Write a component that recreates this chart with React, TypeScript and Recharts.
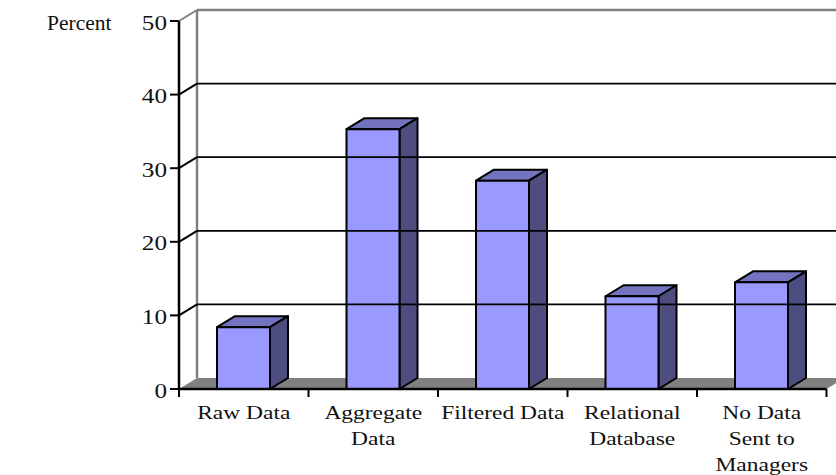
import React from 'react';
import { BarChart, Bar, XAxis, YAxis, ReferenceLine, usePlotArea } from 'recharts';

const categories = ['Raw Data', 'Aggregate\nData', 'Filtered Data', 'Relational\nDatabase', 'No Data\nSent to\nManagers'];
const percents = [8.4, 35.3, 28.3, 12.6, 14.5];
const yTicks = [0, 10, 20, 30, 40, 50];
const gridTicks = [10, 20, 30, 40];

const data = categories.map((name, i) => ({ name, percent: percents[i] }));

const WIDTH = 836;
const HEIGHT = 475;
const LEFT = 179;
const TOP = 21;
const BOTTOM = 86;
const RIGHT = 9.5;
// offset of the back wall from the front plane
const DX = 18;
const DY = 11;
const HALF_BAND = (WIDTH - LEFT - RIGHT) / categories.length / 2;

const SERIF = '"Liberation Serif", "Times New Roman", serif';
const WALL = '#808080';

const Box3D = (props: any) => {
  const { x, y, width, height } = props;
  const r = x + width;
  const b = y + height;
  const common = { stroke: '#000', strokeWidth: 2, strokeLinejoin: 'round' as const };
  return (
    <g>
      <polygon points={`${x},${y} ${x + DX},${y - DY} ${r + DX},${y - DY} ${r},${y}`} fill="#7373BF" {...common} />
      <polygon points={`${r},${y} ${r + DX},${y - DY} ${r + DX},${b - DY} ${r},${b}`} fill="#4D4D80" {...common} />
      <rect x={x} y={y} width={width} height={height} fill="#9999FF" {...common} />
    </g>
  );
};

const YTick = (props: any) => {
  const { y, payload } = props;
  const top = payload.value === yTicks[yTicks.length - 1];
  return (
    <g>
      <line x1={LEFT - 9} y1={y} x2={LEFT} y2={y} stroke="#000" strokeWidth={2} />
      {payload.value !== 0 && (
        <line x1={LEFT} y1={y} x2={LEFT + DX} y2={y - DY} stroke={top ? WALL : '#000'} strokeWidth={2} />
      )}
      <text
        transform={`translate(${LEFT - 12},${y + 8.5}) scale(1.2,1)`}
        textAnchor="end"
        fontFamily={SERIF}
        fontSize={21}
        fill="#111"
      >
        {payload.value}
      </text>
    </g>
  );
};

const XTick = (props: any) => {
  const { x, y, payload, index } = props;
  const lines = String(payload.value).split('\n');
  const last = index === categories.length - 1;
  const axisY = y - 8; // recharts hands over the tick position below its default tick gap
  return (
    <g>
      <line x1={x - HALF_BAND} y1={axisY} x2={x - HALF_BAND} y2={axisY + 8} stroke="#000" strokeWidth={2} />
      {last && <line x1={x + HALF_BAND} y1={axisY} x2={x + HALF_BAND} y2={axisY + 8} stroke="#000" strokeWidth={2} />}
      {lines.map((line, i) => (
        <text
          key={line}
          transform={`translate(${x},${axisY + 30 + i * 26}) scale(1.27,1)`}
          textAnchor="middle"
          fontFamily={SERIF}
          fontSize={18.5}
          fill="#111"
        >
          {line}
        </text>
      ))}
    </g>
  );
};

// gray floor and the outline of the back wall
const Walls = () => {
  const plot = usePlotArea();
  if (!plot) return null;
  const { x, y, width, height } = plot;
  const b = y + height;
  const r = x + width;
  return (
    <g>
      <polygon points={`${x},${b} ${x + DX},${b - DY} ${r + DX},${b - DY} ${r},${b}`} fill={WALL} />
      <line x1={x + DX} y1={y - DY} x2={x + DX} y2={b - DY} stroke={WALL} strokeWidth={2.5} />
      <line x1={x + DX} y1={y - DY} x2={WIDTH} y2={y - DY} stroke={WALL} strokeWidth={2.5} />
    </g>
  );
};

// gridline pushed back onto the rear wall
const WallLine = (props: any) => (
  <line x1={LEFT + DX} y1={props.y1 - DY} x2={WIDTH} y2={props.y1 - DY} stroke="#000" strokeWidth={1.7} />
);

export default function App() {
  return (
    <div style={{ position: 'absolute', left: 0, top: 0, width: WIDTH, height: HEIGHT }}>
      <BarChart
        width={WIDTH}
        height={HEIGHT}
        data={data}
        barSize={53}
        margin={{ top: TOP, right: RIGHT, bottom: 0, left: 0 }}
      >
        <Walls />
        {gridTicks.map((t) => (
          <ReferenceLine key={t} y={t} shape={WallLine} />
        ))}
        <XAxis
          dataKey="name"
          height={BOTTOM}
          interval={0}
          tickLine={false}
          axisLine={{ stroke: '#000', strokeWidth: 2.5 }}
          tick={<XTick />}
        />
        <YAxis
          width={LEFT}
          domain={[0, 50]}
          ticks={yTicks}
          tickLine={false}
          axisLine={{ stroke: '#000', strokeWidth: 2.5 }}
          tick={<YTick />}
        />
        <Bar dataKey="percent" shape={<Box3D />} isAnimationActive={false} />
        <text x={47} y={30} fontFamily={SERIF} fontSize={21.5} fill="#111">
          Percent
        </text>
      </BarChart>
    </div>
  );
}
